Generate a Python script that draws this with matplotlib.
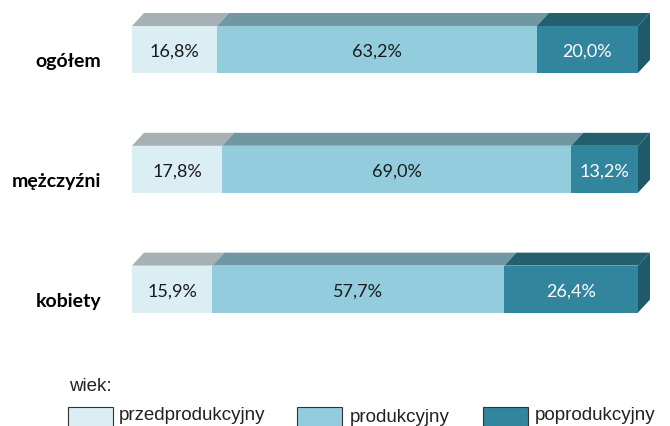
import matplotlib
matplotlib.use("Agg")
import matplotlib.pyplot as plt
from matplotlib.patches import Polygon, Rectangle
import numpy as np

# data
groups = ["ogółem", "mężczyźni", "kobiety"]
przed = [16.8, 17.8, 15.9]
prod = [63.2, 69.0, 57.7]
popr = [20.0, 13.2, 26.4]
series_names = ["przedprodukcyjny", "produkcyjny", "poprodukcyjny"]

front_colors = ["#DAEEF3", "#93CDDD", "#31859C"]
top_colors = ["#A6B0B5", "#7198A2", "#245F6D"]
side_color = "#1F5A68"
text_colors = ["#1a1a1a", "#1a1a1a", "white"]

W, H = 670, 426
fig = plt.figure(figsize=(W / 100, H / 100), dpi=100)

# axes: x 0..100 -> px 132..638, bar centers at 49.5, 169.5, 289 px
ax = fig.add_axes([132 / W, (H - 343) / H, 506 / W, 335.5 / H])
ax.set_xlim(0, 100)
ax.set_ylim(2.45, -0.35)
ax.axis("off")

bar_h = 47 / 120
dx = 12 / 506 * 100
dy = 13 / 120

values = np.array([przed, prod, popr])
ypos = np.arange(len(groups))
lefts = np.zeros(len(groups))
for k in range(len(values)):
    ax.barh(ypos, values[k], left=lefts, height=bar_h, color=front_colors[k],
            edgecolor="none", zorder=2)
    for i, y in enumerate(ypos):
        l, r = lefts[i], lefts[i] + values[k][i]
        yt = y - bar_h / 2
        ax.add_patch(Polygon([(l, yt), (r, yt), (r + dx, yt - dy), (l + dx, yt - dy)],
                             closed=True, facecolor=top_colors[k], edgecolor="none",
                             zorder=1, clip_on=False))
        ax.text((l + r) / 2, y + 0.02, f"{values[k][i]:.1f}%".replace(".", ","),
                ha="center", va="center", fontsize=13, family="Lato",
                color=text_colors[k], zorder=3)
    lefts += values[k]

# right side faces + category labels
for i, y in enumerate(ypos):
    r = lefts[i]
    yt, yb = y - bar_h / 2, y + bar_h / 2
    ax.add_patch(Polygon([(r, yt), (r, yb), (r + dx, yb - dy), (r + dx, yt - dy)],
                         closed=True, facecolor=side_color, edgecolor="none",
                         zorder=1, clip_on=False))
    ax.text(-6.1, y + 0.1, groups[i], ha="right", va="center", fontsize=14,
            fontweight="bold", family="Lato", color="black")

# legend
fig.text(69 / W, 1 - 391 / H, "wiek:", ha="left", va="baseline", fontsize=13.5,
         family="Liberation Sans", color="#222222")
box_x = [68, 297, 483]
text_x = [119, 350, 535]
text_base = [420, 422, 420]
for k in range(3):
    fig.patches.append(Rectangle((box_x[k] / W, 1 - 432 / H), 45 / W, 25 / H,
                                 transform=fig.transFigure, facecolor=front_colors[k],
                                 edgecolor="#333333", linewidth=0.8))
    fig.text(text_x[k] / W, 1 - text_base[k] / H, series_names[k], ha="left",
             va="baseline", fontsize=13.5, family="Liberation Sans", color="#222222")

fig.savefig("out.png", dpi=100, facecolor="white")
